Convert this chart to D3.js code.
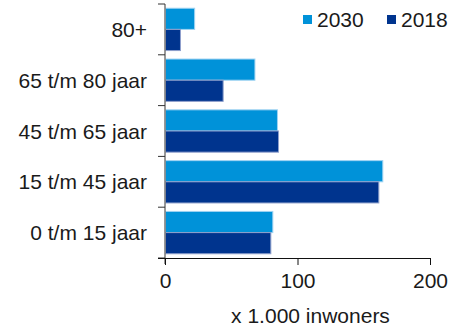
<!DOCTYPE html>
<html>
<head>
<meta charset="utf-8">
<script src="https://cdn.jsdelivr.net/npm/d3@7"></script>
<style>
  html, body { margin: 0; padding: 0; background: #fff; }
  svg { display: block; font-family: "Liberation Sans", Arial, sans-serif; }
</style>
</head>
<body>
<svg id="chart" width="449" height="329"></svg>
<script>
const categories = ["80+", "65 t/m 80 jaar", "45 t/m 65 jaar", "15 t/m 45 jaar", "0 t/m 15 jaar"];
const seriesNames = ["2030", "2018"];
const values2030 = [22, 67.5, 84.5, 164, 81];
const values2018 = [11.3, 43.5, 85.3, 161, 79.5];
const xTicks = [0, 100, 200];
const axisTitle = "x 1.000 inwoners";

const colors = { "2030": "#0092d9", "2018": "#00348e" };
const strokes = { "2030": "#9fd3f2", "2018": "#8fa0cc" };

const svg = d3.select("#chart");
const mLeft = 165, mRight = 430, mTop = 4, mBottom = 258;

const x = d3.scaleLinear().domain([0, 200]).range([mLeft, mRight]);
const y = d3.scaleBand().domain(categories).range([mTop, mBottom]).padding(0);
const ySub = d3.scaleBand().domain(seriesNames).range([0, y.bandwidth()]).paddingInner(0).paddingOuter(0.2);

const data = categories.map((c, i) => ({ cat: c, vals: [
  { s: "2030", v: values2030[i] },
  { s: "2018", v: values2018[i] }
]}));

const groups = svg.append("g").selectAll("g").data(data).join("g")
  .attr("transform", d => `translate(0,${y(d.cat)})`);
groups.selectAll("rect").data(d => d.vals).join("rect")
  .attr("x", x(0) + 0.5)
  .attr("y", d => ySub(d.s))
  .attr("width", d => x(d.v) - x(0))
  .attr("height", ySub.bandwidth())
  .attr("fill", d => colors[d.s])
  .attr("stroke", d => strokes[d.s])
  .attr("stroke-width", 1);

// Y axis (category)
const yAxis = svg.append("g").attr("transform", `translate(${mLeft},0)`);
yAxis.append("line").attr("x1", 0).attr("x2", 0).attr("y1", mTop).attr("y2", mBottom + 6)
  .attr("stroke", "#777").attr("stroke-width", 1.5);
const yTickPos = categories.map(c => y(c)).concat([mBottom]);
yAxis.selectAll("line.tick").data(yTickPos).join("line").attr("class", "tick")
  .attr("x1", -7).attr("x2", 0).attr("y1", d => d).attr("y2", d => d)
  .attr("stroke", "#333").attr("stroke-width", 1);
yAxis.selectAll("text").data(categories).join("text")
  .attr("x", -18).attr("y", d => y(d) + y.bandwidth() / 2)
  .attr("dy", "0.36em").attr("text-anchor", "end")
  .attr("font-size", 21).attr("fill", "#1a1a1a").text(d => d);

// X axis
const xAxis = d3.axisBottom(x).tickValues(xTicks).tickSize(7).tickPadding(8).tickFormat(d3.format("d"));
const gx = svg.append("g").attr("transform", `translate(0,${mBottom})`).call(xAxis);
gx.select(".domain").attr("stroke", "#111").attr("d", `M${mLeft - 7},0.5H${mRight}`);
gx.selectAll(".tick line").attr("stroke", "#111");
gx.selectAll(".tick text").attr("font-size", 21).attr("fill", "#1a1a1a")
  .attr("font-family", "Liberation Sans, Arial, sans-serif");

svg.append("text").attr("x", (231 + 390) / 2).attr("y", 323)
  .attr("text-anchor", "middle").attr("font-size", 21).attr("fill", "#1a1a1a")
  .text(axisTitle);

// Legend
const legendX = [303, 387];
const legend = svg.append("g").selectAll("g").data(seriesNames).join("g")
  .attr("transform", (d, i) => `translate(${legendX[i]},15)`);
legend.append("rect").attr("width", 9).attr("height", 9).attr("fill", d => colors[d]);
legend.append("text").attr("x", 14).attr("y", 11.5).attr("font-size", 21)
  .attr("fill", "#1a1a1a").text(d => d);
</script>
</body>
</html>
